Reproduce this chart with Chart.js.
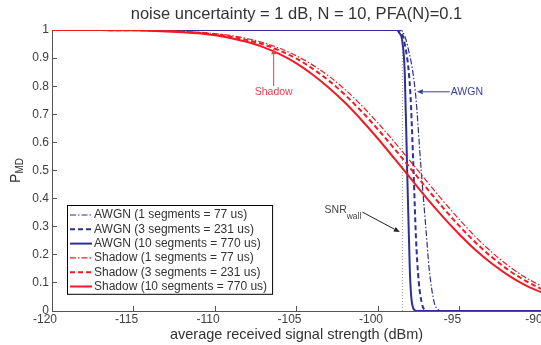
<!DOCTYPE html>
<html>
<head>
<meta charset="utf-8">
<script src="https://cdn.jsdelivr.net/npm/chart.js@4"></script>
<style>
  html, body { margin: 0; padding: 0; background: #fff; }
</style>
</head>
<body>
<canvas id="pmd" width="541" height="345"></canvas>
<script>
const FONT = '"Liberation Sans", Arial, Helvetica, sans-serif';
const BLUE = '#2e3192';
const RED = '#ed1c24';

const chartTitle = 'noise uncertainty = 1 dB, N = 10, PFA(N)=0.1';

// shadowing curves, sampled every 1 dB
const shadowDbm = [-120, -119, -118, -117, -116, -115, -114, -113, -112, -111, -110,
  -109, -108, -107, -106, -105, -104, -103, -102, -101, -100,
  -99, -98, -97, -96, -95, -94, -93, -92, -91, -90];
const shadow1 = [1.000, 1.000, 1.000, 1.000, 1.000, 0.999, 0.998, 0.997, 0.995, 0.992, 0.987,
  0.980, 0.969, 0.954, 0.934, 0.908, 0.875, 0.835, 0.787, 0.731, 0.669,
  0.602, 0.532, 0.461, 0.391, 0.325, 0.263, 0.208, 0.161, 0.121, 0.089];
const shadow3 = [1.000, 1.000, 1.000, 1.000, 0.999, 0.999, 0.998, 0.997, 0.994, 0.990, 0.985,
  0.976, 0.964, 0.948, 0.926, 0.898, 0.862, 0.819, 0.768, 0.710, 0.646,
  0.578, 0.507, 0.436, 0.367, 0.302, 0.243, 0.191, 0.146, 0.109, 0.079];
const shadow10 = [1.000, 1.000, 1.000, 1.000, 0.999, 0.999, 0.997, 0.995, 0.992, 0.988, 0.981,
  0.971, 0.957, 0.938, 0.913, 0.881, 0.841, 0.794, 0.740, 0.679, 0.613,
  0.543, 0.472, 0.401, 0.334, 0.272, 0.216, 0.168, 0.127, 0.093, 0.067];

// AWGN curves drop within ~2 dB, so they carry their own x positions
const awgn1Dbm = [-120, -98.6, -98.45, -98.2, -97.71, -97.35, -97.07, -96.86, -96.55, -96.3, -96.15, -90];
const awgn1 = [1, 1, 0.99, 0.947, 0.78, 0.5, 0.3, 0.15, 0.03, 0.005, 0, 0];
const awgn3Dbm = [-120, -98.75, -98.57, -98.39, -98.02, -97.82, -97.67, -97.51, -97.3, -97.15, -97.05, -90];
const awgn3 = [1, 1, 0.99, 0.96, 0.78, 0.5, 0.26, 0.11, 0.025, 0.004, 0, 0];
const awgn10Dbm = [-120, -98.85, -98.7, -98.51, -98.36, -98.21, -98.05, -97.96, -97.85, -97.72, -97.6, -90];
const awgn10 = [1, 1, 0.99, 0.96, 0.85, 0.5, 0.15, 0.05, 0.012, 0.002, 0, 0];

const snrWall = -98.5;

const seriesLabels = [
  'AWGN (1 segments = 77 us)',
  'AWGN (3 segments = 231 us)',
  'AWGN (10 segments = 770 us)',
  'Shadow (1 segments = 77 us)',
  'Shadow (3 segments = 231 us)',
  'Shadow (10 segments = 770 us)'
];

const xTicks = [-120, -115, -110, -105, -100, -95, -90];

const DASH = [5, 3];
const DASHDOT = [6, 2, 1.5, 2];

function toPoints(xs, ys) {
  return xs.map((x, i) => ({ x: x, y: ys[i] }));
}

// lower order is drawn later, i.e. on top
function line(label, xs, ys, color, dash, width, order) {
  return {
    label: label,
    data: toPoints(xs, ys),
    borderColor: color,
    borderDash: dash,
    borderWidth: width,
    pointRadius: 0,
    cubicInterpolationMode: 'monotone',
    fill: false,
    order: order
  };
}

function arrow(ctx, x0, y0, x1, y1, color) {
  const a = Math.atan2(y1 - y0, x1 - x0);
  const len = 6, half = 2.5;
  ctx.save();
  ctx.strokeStyle = color;
  ctx.fillStyle = color;
  ctx.lineWidth = 1;
  ctx.beginPath();
  ctx.moveTo(x0, y0);
  ctx.lineTo(x1 - Math.cos(a) * len, y1 - Math.sin(a) * len);
  ctx.stroke();
  ctx.beginPath();
  ctx.moveTo(x1, y1);
  ctx.lineTo(x1 - Math.cos(a) * len - Math.sin(a) * half, y1 - Math.sin(a) * len + Math.cos(a) * half);
  ctx.lineTo(x1 - Math.cos(a) * len + Math.sin(a) * half, y1 - Math.sin(a) * len - Math.cos(a) * half);
  ctx.closePath();
  ctx.fill();
  ctx.restore();
}

// title over the plot area, text callouts, the boxed legend and the P_MD label
const extras = {
  id: 'extras',
  afterDatasetsDraw(chart) {
    const { ctx, scales: { x, y }, chartArea } = chart;
    ctx.save();

    ctx.font = '16.5px ' + FONT;
    ctx.fillStyle = '#333';
    ctx.textAlign = 'center';
    ctx.textBaseline = 'middle';
    ctx.fillText(chartTitle, (chartArea.left + chartArea.right) / 2, 14.5);

    // Shadow callout
    const sx = x.getPixelForValue(-106.4);
    arrow(ctx, sx, y.getPixelForValue(0.80), sx, y.getPixelForValue(0.935), '#ee3a4a');
    ctx.font = '10.5px ' + FONT;
    ctx.fillStyle = '#ee3a4a';
    ctx.fillText('Shadow', sx, y.getPixelForValue(0.779));

    // AWGN callout
    const ay = y.getPixelForValue(0.78);
    const ax = x.getPixelForValue(-95.6);
    arrow(ctx, ax, ay, x.getPixelForValue(-97.62), ay, '#3a3f9e');
    ctx.fillStyle = '#3a3f9e';
    ctx.textAlign = 'left';
    ctx.fillText('AWGN', ax + 1, ay);

    // SNR wall callout
    const tx = x.getPixelForValue(-100.96);
    const ty = y.getPixelForValue(0.352);
    arrow(ctx, tx, ty, x.getPixelForValue(-98.66), y.getPixelForValue(0.281), '#222');
    ctx.fillStyle = '#444';
    ctx.textAlign = 'right';
    ctx.textBaseline = 'alphabetic';
    ctx.font = '8.5px ' + FONT;
    const wWall = ctx.measureText('wall').width;
    ctx.fillText('wall', tx - 1, ty + 7);
    ctx.font = '10.5px ' + FONT;
    ctx.fillText('SNR', tx - 1 - wWall, ty + 1);

    // legend
    const items = chart.data.datasets.filter(d => d.label);
    ctx.font = '12px ' + FONT;
    const textW = Math.max(...items.map(d => ctx.measureText(d.label).width));
    const rowH = 14.3;
    const left = chartArea.left + 15;
    const top = chartArea.top + 175;
    const w = 3 + 22 + 2 + textW + 5;
    const h = rowH * items.length + 3;
    ctx.fillStyle = '#fff';
    ctx.fillRect(left, top, w, h);
    ctx.strokeStyle = '#000';
    ctx.lineWidth = 1;
    ctx.strokeRect(left + 0.5, top + 0.5, w, h);
    items.forEach((d, i) => {
      const cy = top + 10 + i * rowH;
      ctx.save();
      ctx.strokeStyle = d.borderColor;
      ctx.lineWidth = d.borderWidth;
      ctx.setLineDash(d.borderDash);
      ctx.beginPath();
      ctx.moveTo(left + 3, cy);
      ctx.lineTo(left + 25, cy);
      ctx.stroke();
      ctx.restore();
      ctx.fillStyle = '#333';
      ctx.textAlign = 'left';
      ctx.textBaseline = 'middle';
      ctx.fillText(d.label, left + 27, cy);
    });

    // y axis label with subscript
    ctx.translate(20, (chartArea.top + chartArea.bottom) / 2);
    ctx.rotate(-Math.PI / 2);
    ctx.fillStyle = '#333';
    ctx.textAlign = 'left';
    ctx.textBaseline = 'alphabetic';
    ctx.font = '14px ' + FONT;
    const wP = ctx.measureText('P').width;
    ctx.font = '10px ' + FONT;
    const wMD = ctx.measureText('MD').width;
    const start = -(wP + wMD) / 2;
    ctx.font = '14px ' + FONT;
    ctx.fillText('P', start, 0);
    ctx.font = '10px ' + FONT;
    ctx.fillText('MD', start + wP, 3);

    ctx.restore();
  }
};

new Chart(document.getElementById('pmd'), {
  type: 'line',
  data: {
    datasets: [
      line(seriesLabels[0], awgn1Dbm, awgn1, BLUE, DASHDOT, 1.2, 6),
      line(seriesLabels[1], awgn3Dbm, awgn3, BLUE, DASH, 2, 5),
      line(seriesLabels[2], awgn10Dbm, awgn10, BLUE, [], 2, 4),
      line(seriesLabels[3], shadowDbm, shadow1, RED, DASHDOT, 1.2, 3),
      line(seriesLabels[4], shadowDbm, shadow3, RED, DASH, 2, 2),
      line(seriesLabels[5], shadowDbm, shadow10, RED, [], 2, 1),
      {
        data: [{ x: snrWall, y: 0 }, { x: snrWall, y: 1 }],
        borderColor: '#999',
        borderDash: [1, 2],
        borderWidth: 1,
        pointRadius: 0,
        order: 7
      }
    ]
  },
  options: {
    responsive: false,
    animation: false,
    events: [],
    layout: { padding: { top: 30, left: 0, right: 0, bottom: 0 } },
    plugins: {
      legend: { display: false },
      tooltip: { enabled: false },
      title: { display: false }
    },
    scales: {
      x: {
        type: 'linear',
        min: -120,
        max: -90,
        afterBuildTicks: (scale) => { scale.ticks = xTicks.map(v => ({ value: v })); },
        afterFit: (scale) => { scale.height = 34; scale.paddingLeft = 0; scale.paddingRight = 0; },
        grid: { drawOnChartArea: false, tickLength: -5, color: '#555' },
        border: { color: '#555', width: 1 },
        ticks: { color: '#404040', font: { family: FONT, size: 12 }, padding: 6, labelOffset: -7, maxRotation: 0, autoSkip: false },
        title: {
          display: true,
          text: 'average received signal strength (dBm)',
          color: '#333',
          font: { family: FONT, size: 14.5 },
          padding: { top: 0, bottom: 1 }
        }
      },
      y: {
        min: 0,
        max: 1,
        afterFit: (scale) => { scale.width = 52; scale.paddingTop = 0; scale.paddingBottom = 0; },
        grid: { drawOnChartArea: false, tickLength: -5, color: '#555' },
        border: { color: '#555', width: 1 },
        ticks: {
          stepSize: 0.1,
          color: '#404040',
          font: { family: FONT, size: 12 },
          padding: 8,
          callback: (v) => String(Math.round(v * 10) / 10)
        }
      }
    }
  },
  plugins: [extras]
});
</script>
</body>
</html>
